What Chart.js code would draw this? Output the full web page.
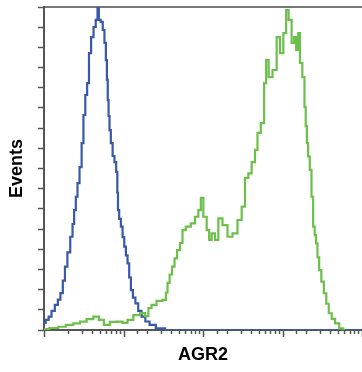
<!DOCTYPE html>
<html>
<head>
<meta charset="utf-8">
<script src="https://cdn.jsdelivr.net/npm/chart.js@4"></script>
<style>
  html, body { margin: 0; padding: 0; background: #fff; }
  #wrap { width: 362px; height: 372px; }
</style>
</head>
<body>
<div id="wrap"><canvas id="c"></canvas></div>
<script>
// fluorescence channel (log scale) and event counts
const isotypeX = [1, 1.1, 1.19, 1.3, 1.44, 1.55, 1.67, 1.78, 1.89, 2.05, 2.23, 2.34, 2.45, 2.58, 2.7, 2.9, 3.05, 3.22, 3.4, 3.58, 3.78, 4.05, 4.35, 4.6, 4.82,
  4.98, 5.35, 5.62, 5.9, 6.1, 6.27, 6.4, 6.58, 6.76, 7.1, 7.5, 7.9, 8.28, 8.45, 8.6, 9.05, 9.49, 10.0, 10.44, 11.0, 11.49, 12.1, 12.68, 13.6, 14.65, 16.0, 17.74,
  20.0, 22.6, 28.8, 38.5, 10000];
const isotypeY = [3.5, 5, 6.6, 9.5, 12.4, 15, 18.3, 24.5, 31.4, 38.5, 46.2, 52.5, 59.4, 66, 72.8, 80.7, 92.6, 106.5, 116.4, 122.3, 137.2, 145.1, 150.1, 153.6, 160,
  153.6, 152.6, 148.6, 142.2, 133.7, 124, 113.9, 106, 99, 92.6, 86.2, 83.2, 78.3, 68, 59.4, 55, 51.2, 46, 41.3, 37, 33, 26, 19.8, 16, 13.2, 9.5, 6.6,
  4.2, 2.5, 0.8, 0, 0];

const agr2X = [1, 1.37, 1.67, 2.12, 2.58, 3.12, 3.79, 4.6, 5.21, 6.15, 7.38, 9.03, 10.44, 12.07, 14.65, 17.74,
  19.6, 21.6, 23.5, 28.8, 33.3, 35, 36.6, 39.5, 42.3, 45.5, 48.9, 54, 56.5, 65.3, 75.5, 83.3, 91.6, 96.3, 106, 116.7, 122.5,
  134.8, 148.6, 163.6, 189.2, 218.6, 252.7, 291.9, 321.5, 354.6, 390, 429.5, 473, 496, 573, 602, 644, 697,
  805, 886, 977, 1075, 1149, 1242, 1367, 1436, 1535, 1626, 1693, 1863, 1919, 2000, 2051, 2150, 2263, 2371, 2490, 2590, 2692,
  2820, 2963, 3200, 3427, 3690, 3956, 4380, 4806, 5557, 6109];
const agr2Y = [0.5, 1, 1.6, 2.5, 3.3, 4.1, 5.4, 6.6, 5, 2.5, 4, 4.1, 3.5, 5, 7.4, 8.4,
  6.9, 10.9, 12.4, 14.4, 14.9, 18.5, 23.3, 27.5, 31.4, 35.5, 39.6, 43.1, 49.5, 51.2, 52.8, 56.1, 59.4, 65.4, 56.1, 49.5, 44.6,
  47.9, 44.6, 55.3, 52, 46.2, 47.9, 54.5, 61.1, 75.3, 77.6, 83.2, 89.2, 97.6, 102.5, 122.3, 133.7, 125.3,
  128.8, 145.1, 137.2, 147.1, 158.5, 153.6, 142.2, 145.1, 138.7, 147.1, 132.3, 125.3, 110.5, 101, 92.6, 86, 79.3, 66, 51.2, 47, 42.9,
  36, 29.7, 24, 18.2, 13, 8.3, 5.5, 3.3, 0.8, 0];

const toPoints = (xs, ys) => xs.map((x, i) => ({ x: x, y: ys[i] }));

// short/long tick marks under the log axis
const logTicks = {
  id: 'logTicks',
  afterDraw(chart) {
    const s = chart.scales.x;
    const ctx = chart.ctx;
    ctx.save();
    ctx.strokeStyle = '#555';
    ctx.lineWidth = 1.5;
    s.ticks.forEach(t => {
      const lg = Math.log10(t.value);
      const major = Math.abs(lg - Math.round(lg)) < 1e-6;
      const px = Math.round(s.getPixelForValue(t.value)) + 0.5;
      ctx.beginPath();
      ctx.moveTo(px, s.top);
      ctx.lineTo(px, s.top + (major ? 7 : 4));
      ctx.stroke();
    });
    ctx.restore();
  }
};

const titleFont = { family: "'Liberation Sans', Arial, sans-serif", size: 18, weight: 'bold' };

new Chart(document.getElementById('c'), {
  type: 'line',
  data: {
    datasets: [
      {
        label: 'AGR2',
        data: toPoints(agr2X, agr2Y),
        borderColor: '#6cbf4a',
        borderWidth: 2.2,
        pointRadius: 0,
        stepped: 'middle'
      },
      {
        label: 'Isotype',
        data: toPoints(isotypeX, isotypeY),
        borderColor: '#3a58a8',
        borderWidth: 2.2,
        pointRadius: 0,
        stepped: 'middle'
      }
    ]
  },
  options: {
    responsive: true,
    maintainAspectRatio: false,
    animation: false,
    events: [],
    layout: { padding: { top: 7, right: 0, left: 0, bottom: 0 } },
    plugins: { legend: { display: false }, tooltip: { enabled: false } },
    scales: {
      x: {
        type: 'logarithmic',
        min: 1,
        max: 10000,
        grid: { display: false, drawTicks: false },
        border: { display: true, color: '#555', width: 2 },
        ticks: { display: false },
        title: { display: true, text: 'AGR2', color: '#000', font: titleFont, padding: { top: 0, bottom: 6 } },
        afterFit(scale) { scale.height = 42; }
      },
      x2: {
        type: 'linear',
        position: 'top',
        grid: { display: false, drawTicks: false },
        border: { display: true, color: '#777', width: 2 },
        ticks: { display: false }
      },
      y: {
        min: 0,
        max: 160,
        ticks: { display: false, stepSize: 10 },
        grid: { drawOnChartArea: false, drawTicks: true, tickLength: 6, color: '#555', tickWidth: 1.5 },
        border: { display: true, color: '#555', width: 2 },
        title: { display: true, text: 'Events', color: '#000', font: titleFont, padding: { top: 6, bottom: 0 } },
        afterFit(scale) { scale.width = 44; }
      }
    }
  },
  plugins: [logTicks]
});
</script>
</body>
</html>
